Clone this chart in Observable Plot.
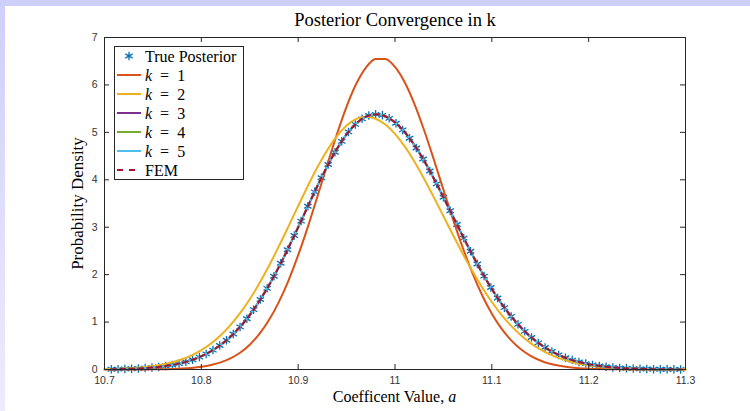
<!DOCTYPE html>
<html><head><meta charset="utf-8">
<script src="https://cdn.jsdelivr.net/npm/d3@7"></script>
<script src="https://cdn.jsdelivr.net/npm/@observablehq/plot@0.6"></script>
<style>
html,body{margin:0;padding:0;background:#fff;}
#wrap{position:relative;width:750px;height:411px;overflow:hidden;background:#fff;}
#topband{position:absolute;left:0;top:0;width:750px;height:6px;background:#cfcffc;}
#leftband{position:absolute;left:0;top:0;width:5px;height:411px;background:linear-gradient(#cfcffc,#ececfb);}
#chart{position:absolute;left:0;top:0;}
</style></head><body>
<div id="wrap"><div id="topband"></div><div id="leftband"></div><div id="chart"></div></div>
<script>
// ---- data ----
const title = "Posterior Convergence in k";
const xTicks = [10.7, 10.8, 10.9, 11, 11.1, 11.2, 11.3];
const xTickLabels = ["10.7", "10.8", "10.9", "11", "11.1", "11.2", "11.3"];
const yTicks = [0, 1, 2, 3, 4, 5, 6, 7];
const yTickLabels = ["0", "1", "2", "3", "4", "5", "6", "7"];

// True posterior sample points (asterisk markers)
const trueX = [10.707,10.714,10.721,10.728,10.735,10.742,10.749,10.756,10.763,10.770,
10.777,10.784,10.791,10.798,10.805,10.812,10.819,10.826,10.833,10.840,
10.847,10.854,10.861,10.868,10.875,10.882,10.889,10.896,10.903,10.910,
10.917,10.924,10.931,10.938,10.945,10.952,10.959,10.966,10.973,10.980,
10.987,10.994,11.001,11.008,11.015,11.022,11.029,11.036,11.043,11.050,
11.057,11.064,11.071,11.078,11.085,11.092,11.099,11.106,11.113,11.120,
11.127,11.134,11.141,11.148,11.155,11.162,11.169,11.176,11.183,11.190,
11.197,11.204,11.211,11.218,11.225,11.232,11.239,11.246,11.253,11.260,
11.267,11.274,11.281,11.288,11.295];
const trueY = [0.006,0.008,0.012,0.016,0.022,0.031,0.041,0.055,0.073,0.096,
0.125,0.161,0.206,0.262,0.329,0.409,0.505,0.617,0.748,0.898,
1.070,1.262,1.477,1.711,1.965,2.239,2.526,2.826,3.129,3.441,
3.746,4.042,4.322,4.580,4.810,5.009,5.168,5.285,5.356,5.380,
5.359,5.296,5.193,5.052,4.877,4.671,4.439,4.185,3.914,3.633,
3.346,3.057,2.771,2.493,2.224,1.969,1.730,1.508,1.304,1.119,
0.952,0.805,0.674,0.561,0.463,0.379,0.308,0.248,0.198,0.157,
0.124,0.097,0.075,0.058,0.044,0.033,0.025,0.019,0.014,0.010,
0.007,0.005,0.004,0.003,0.002];

// grid for the k = 1 and k = 2 approximations
const lineX = [10.70,10.71,10.72,10.73,10.74,10.75,10.76,10.77,10.78,10.79,
10.80,10.81,10.82,10.83,10.84,10.85,10.86,10.87,10.88,10.89,
10.90,10.91,10.92,10.93,10.94,10.95,10.96,10.97,10.98,10.99,
11.00,11.01,11.02,11.03,11.04,11.05,11.06,11.07,11.08,11.09,
11.10,11.11,11.12,11.13,11.14,11.15,11.16,11.17,11.18,11.19,
11.20,11.21,11.22,11.23,11.24,11.25,11.26,11.27,11.28,11.29,
11.30];
const k1Y = [0.000,0.000,0.000,0.001,0.002,0.003,0.006,0.011,0.019,0.033,
0.057,0.094,0.150,0.233,0.354,0.523,0.750,1.047,1.421,1.876,
2.410,3.008,3.653,4.316,4.959,5.543,6.024,6.367,6.547,6.549,
6.380,6.057,5.602,5.049,4.433,3.792,3.161,2.567,2.031,1.566,
1.176,0.861,0.614,0.427,0.289,0.190,0.122,0.077,0.047,0.028,
0.016,0.009,0.005,0.003,0.002,0.001,0.000,0.000,0.000,0.000,
0.000];
const k2Y = [0.008,0.013,0.021,0.032,0.048,0.072,0.106,0.152,0.215,0.299,
0.408,0.547,0.721,0.934,1.187,1.482,1.818,2.191,2.595,3.018,
3.447,3.870,4.268,4.623,4.920,5.144,5.283,5.330,5.288,5.166,
4.968,4.704,4.384,4.023,3.635,3.233,2.831,2.440,2.071,1.730,
1.424,1.153,0.919,0.721,0.557,0.424,0.318,0.234,0.170,0.121,
0.085,0.059,0.040,0.027,0.018,0.012,0.007,0.005,0.003,0.002,
0.001];
// k = 3, 4, 5 and FEM are indistinguishable from the true posterior at this scale
const k3Y = trueY;
const k4Y = trueY;
const k5Y = trueY;
const femY = trueY;

const seriesNames = ["k = 1", "k = 2", "k = 3", "k = 4", "k = 5", "FEM"];
const seriesColors = ["#D95319", "#EDB120", "#7E2F8E", "#77AC30", "#4DBEEE", "#A2142F"];
const trueColor = "#0072BD";

// ---- build ----
const W = 750, H = 411, ML = 104, MR = 65, MT = 37, MB = 42;
const fw = W - ML - MR, fh = H - MT - MB;
const ink = "#262626";
const serif = "'Liberation Serif', 'Times New Roman', serif";

const toData = (xs, ys) => xs.map((x, i) => ({x, y: ys[i]}));
const trueData = toData(trueX, trueY);
const k1Data = toData(lineX, k1Y);
const k2Data = toData(lineX, k2Y);
const k3Data = toData(trueX, k3Y);
const k4Data = toData(trueX, k4Y);
const k5Data = toData(trueX, k5Y);
const femData = toData(trueX, femY);

const plot = Plot.plot({
  width: W, height: H,
  marginLeft: ML, marginRight: MR, marginTop: MT, marginBottom: MB,
  style: {background: "transparent", fontFamily: "'Liberation Sans', Arial, sans-serif", fontSize: "10.5px", color: ink},
  x: {domain: [10.7, 11.3]},
  y: {domain: [0, 7]},
  marks: [
    Plot.axisX(xTicks, {tickSize: 0, tickPadding: 7, tickFormat: d => xTickLabels[xTicks.indexOf(d)], label: null, fill: "#333"}),
    Plot.axisY(yTicks, {tickSize: 0, tickPadding: 7, tickFormat: d => yTickLabels[yTicks.indexOf(d)], label: null, fill: "#333"}),
    Plot.dot(trueData, {x: "x", y: "y", symbol: "asterisk", r: 4, stroke: trueColor, strokeWidth: 1.3}),
    Plot.line(k1Data, {x: "x", y: "y", stroke: seriesColors[0], strokeWidth: 2, curve: "monotone-x"}),
    Plot.line(k2Data, {x: "x", y: "y", stroke: seriesColors[1], strokeWidth: 2, curve: "monotone-x"}),
    Plot.line(k3Data, {x: "x", y: "y", stroke: seriesColors[2], strokeWidth: 2, curve: "monotone-x"}),
    Plot.line(k4Data, {x: "x", y: "y", stroke: seriesColors[3], strokeWidth: 2, curve: "monotone-x"}),
    Plot.line(k5Data, {x: "x", y: "y", stroke: seriesColors[4], strokeWidth: 2, curve: "monotone-x"}),
    Plot.line(femData, {x: "x", y: "y", stroke: seriesColors[5], strokeWidth: 2, strokeDasharray: "5,4", curve: "monotone-x"}),
    Plot.frame({stroke: ink, strokeWidth: 1}),
    Plot.tickX(xTicks, {x: d => d, insetTop: fh - 5, stroke: ink}),
    Plot.tickX(xTicks, {x: d => d, insetBottom: fh - 5, stroke: ink}),
    Plot.tickY(yTicks, {y: d => d, insetRight: fw - 5, stroke: ink}),
    Plot.tickY(yTicks, {y: d => d, insetLeft: fw - 5, stroke: ink}),
    Plot.text([title], {text: d => d, frameAnchor: "top", lineAnchor: "middle", textAnchor: "middle", dy: -17, fontFamily: serif, fontSize: 18.5, fill: "#000"}),
    Plot.text(["Probability Density"], {text: d => d, frameAnchor: "left", lineAnchor: "middle", textAnchor: "middle", dx: -27, rotate: -90, fontFamily: serif, fontSize: 17, fill: "#000"})
  ]
});
document.getElementById("chart").appendChild(plot);

// x-axis label with italic math variable
const svg = d3.select(plot);
const xl = svg.append("text")
  .attr("x", ML + fw / 2).attr("y", H - 9)
  .attr("text-anchor", "middle")
  .attr("font-family", serif).attr("font-size", 16).attr("fill", "#000");
xl.append("tspan").text("Coefficent Value, ");
xl.append("tspan").attr("font-style", "italic").text("a");

// legend
const lg = svg.append("g").attr("transform", "translate(114,46)").attr("text-anchor", "start");
lg.append("rect").attr("x", 0.5).attr("y", 0.5).attr("width", 129).attr("height", 133)
  .attr("fill", "#fff").attr("stroke", ink).attr("stroke-width", 1);
const rowY = i => 10 + i * 19;
const sym = d3.symbol(d3.symbolAsterisk, Math.PI * 4 * 4);
lg.append("path").attr("d", sym()).attr("transform", `translate(15,${rowY(0)})`)
  .attr("fill", "none").attr("stroke", trueColor).attr("stroke-width", 1.3);
lg.append("text").attr("x", 31).attr("y", rowY(0)).attr("dy", "0.35em").attr("text-anchor", "start")
  .attr("font-family", serif).attr("font-size", 16).attr("fill", "#000").text("True Posterior");
seriesNames.forEach((name, i) => {
  const y = rowY(i + 1);
  lg.append("line").attr("x1", 3).attr("x2", 27).attr("y1", y).attr("y2", y)
    .attr("stroke", seriesColors[i]).attr("stroke-width", 2)
    .attr("stroke-dasharray", name === "FEM" ? "6,6" : null);
  const t = lg.append("text").attr("x", 31).attr("y", y).attr("dy", "0.35em").attr("text-anchor", "start")
    .attr("font-family", serif).attr("font-size", 16).attr("fill", "#000");
  if (name === "FEM") {
    t.text("FEM");
  } else {
    const parts = name.split(" = ");
    t.append("tspan").attr("font-style", "italic").text(parts[0]);
    t.append("tspan").text("\u2002=\u2002" + parts[1]);
  }
});
</script>
</body></html>
